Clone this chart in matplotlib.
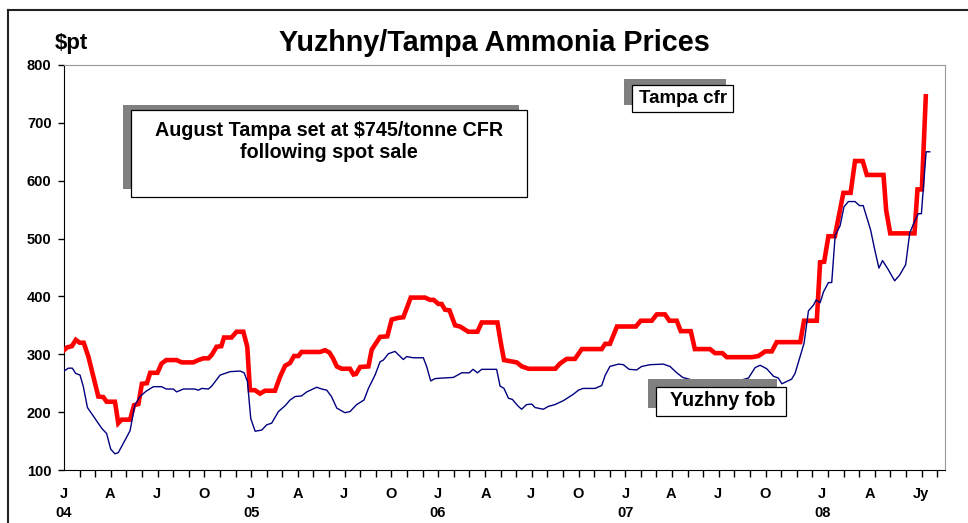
import numpy as np
import matplotlib.pyplot as plt
from matplotlib.patches import Rectangle
from matplotlib.lines import Line2D

plt.rcParams['font.family'] = ['Liberation Sans', 'DejaVu Sans']
plt.rcParams['font.weight'] = 'bold'

# Datos (x en meses desde enero 2004, escala del eje)
months_tampa = [0.0, 0.2, 0.5, 0.75, 1.0, 1.25, 1.55, 1.76, 2.18, 2.5, 2.71, 3.24, 3.45, 3.66, 4.2,
                4.45, 4.73, 4.95, 5.27, 5.48, 5.94, 6.2, 6.5, 7.16, 7.48, 8.22, 8.54, 8.86, 9.18,
                9.39, 9.7, 10.0, 10.17, 10.65, 10.97, 11.4, 11.65, 11.82, 12.14, 12.46, 12.78,
                13.41, 13.73, 14.05, 14.37, 14.62, 14.9, 15.1, 16.27, 16.6, 16.87, 17.1, 17.34,
                17.65, 18.18, 18.4, 18.56, 18.82, 19.35, 19.56, 20.09, 20.55, 20.83, 21.25,
                21.57, 22.04, 22.95, 23.27, 23.5, 23.8, 24.0, 24.22, 24.5, 24.86, 25.17, 25.7,
                26.28, 26.55, 27.55, 27.79, 27.97, 28.36, 28.78, 29.1, 29.53, 31.23, 31.53,
                31.95, 32.48, 32.91, 34.18, 34.4, 34.7, 35.15, 36.35, 36.66, 37.36, 37.68, 38.2,
                38.48, 38.95, 39.2, 39.84, 40.1, 41.06, 41.38, 41.85, 42.13, 43.72, 44.14,
                44.57, 44.99, 45.3, 46.8, 47.04, 47.85, 48.06, 48.32, 48.59, 49.0, 49.54, 50.0,
                50.28, 50.77, 51.03, 52.09, 52.26, 52.52, 54.06, 54.25, 54.53, 54.78]
tampa_cfr = [307, 312, 314, 325, 320, 320, 296, 273, 227, 226, 218, 218, 181, 187, 187,
             212, 214, 249, 250, 268, 268, 284, 290, 290, 286, 286, 290, 293, 293,
             299, 313, 314, 329, 329, 339, 339, 313, 238, 238, 232, 237,
             237, 261, 280, 285, 297, 297, 304, 304, 307, 303, 293, 279,
             275, 275, 265, 266, 278, 279, 308, 330, 331, 360, 363,
             364, 398, 398, 394, 394, 387, 387, 377, 376, 350, 348, 339,
             339, 355, 355, 316, 290, 288, 286, 279, 275, 275, 284,
             292, 292, 309, 309, 318, 318, 348, 348, 358, 358, 369, 369,
             358, 358, 340, 340, 309, 309, 302, 302, 295, 295, 297,
             305, 305, 321, 321, 358, 358, 459, 460, 504, 504, 579, 579,
             634, 634, 610, 610, 549, 509, 509, 585, 585, 746]

months_yuzhny = [0.0, 0.28, 0.53, 0.74, 1.02, 1.23, 1.49, 1.97, 2.4, 2.71, 2.97, 3.24, 3.45, 3.77,
                 4.2, 4.5, 4.83, 5.21, 5.68, 6.2, 6.5, 6.95, 7.16, 7.59, 8.3, 8.54, 8.75, 9.18,
                 9.39, 9.92, 10.56, 11.2, 11.45, 11.66, 11.87, 12.15, 12.57, 12.88, 13.2, 13.63,
                 14.05, 14.37, 14.69, 15.1, 15.43, 16.06, 16.38, 16.7, 17.0, 17.34, 17.86, 18.18,
                 18.6, 19.07, 19.35, 19.77, 20.09, 20.3, 20.62, 21.04, 21.57, 21.78, 22.2, 22.84,
                 23.05, 23.31, 23.59, 24.11, 24.75, 25.28, 25.76, 26.0, 26.28, 26.55, 27.5,
                 27.72, 27.97, 28.25, 28.5, 28.88, 29.09, 29.4, 29.73, 29.94, 30.47, 30.79,
                 31.2, 31.75, 32.38, 32.7, 33.0, 33.76, 34.18, 34.39, 34.7, 35.24, 35.56, 35.92,
                 36.4, 36.72, 37.25, 38.1, 38.52, 38.95, 39.33, 40.0, 41.0, 42.0, 43.0, 43.51,
                 43.93, 44.25, 44.67, 45.1, 45.4, 45.63, 45.94, 46.25, 46.47, 46.79, 47.04,
                 47.32, 47.64, 47.81, 48.06, 48.28, 48.59, 48.8, 49.02, 49.33, 49.58, 49.86,
                 50.28, 50.56, 50.8, 51.27, 51.54, 51.8, 52.03, 52.4, 52.8, 53.12, 53.5, 53.76,
                 54.01, 54.3, 54.5, 54.8, 55.03]
yuzhny_fob = [271, 276, 276, 267, 264, 244, 208, 189, 172, 163, 136, 128, 130, 146,
              168, 212, 227, 236, 244, 244, 240, 240, 235, 240, 240, 238, 241, 240,
              245, 264, 270, 271, 268, 253, 189, 167, 169, 178, 181, 201,
              211, 221, 227, 228, 235, 243, 240, 238, 227, 207, 199, 201,
              213, 221, 241, 264, 287, 290, 301, 305, 291, 296, 294, 294,
              279, 254, 258, 259, 260, 268, 268, 274, 268, 274, 274,
              245, 241, 224, 222, 210, 205, 213, 214, 208, 205, 210,
              213, 220, 231, 238, 241, 241, 246, 263, 279, 283, 282, 274,
              273, 279, 282, 283, 279, 268, 260, 255, 250, 250, 255, 259,
              277, 281, 275, 262, 259, 249, 253, 257, 267, 296, 319,
              375, 385, 394, 389, 408, 424, 424, 506, 522, 555, 564,
              564, 557, 557, 515, 480, 449, 462, 446, 427, 437, 455, 510,
              526, 543, 543, 650, 650]

label_pos = [0, 2.95, 5.9, 8.9, 11.9, 14.9, 17.8, 20.8, 23.75, 26.8, 29.7, 32.65, 35.7,
             38.6, 41.55, 44.55, 48.2, 51.25, 54.45]
label_txt = ['J\n04', 'A', 'J', 'O', 'J\n05', 'A', 'J', 'O', 'J\n06', 'A', 'J', 'O', 'J\n07',
             'A', 'J', 'O', 'J\n08', 'A', 'Jy']

W, H = 968, 523
fig = plt.figure(figsize=(W / 100, H / 100), dpi=100)
ax = fig.add_axes([64 / W, 1 - 470 / H, (945 - 64) / W, (470 - 65) / H])

ax.plot(months_tampa, tampa_cfr, color='#ff0000', lw=3.3, solid_joinstyle='miter', zorder=3)
ax.plot(months_yuzhny, yuzhny_fob, color='#000080', lw=1.0, zorder=4)

ax.set_xlim(0, 56)
ax.set_ylim(100, 800)
ax.set_yticks(range(100, 801, 100))
ax.tick_params(axis='y', direction='out', length=4, width=1, labelsize=10.5, pad=5)
ax.set_xticks(np.linspace(0, 55.5, 57), minor=True)
ax.set_xticks(label_pos)
ax.set_xticklabels(label_txt, fontsize=10.5, fontweight='bold', va='top')
ax.tick_params(axis='x', which='minor', direction='out', length=5, width=1)
ax.tick_params(axis='x', which='major', length=0, pad=12)
for lbl in ax.get_xticklabels():
    lbl.set_linespacing(1.45)
for lbl in ax.get_yticklabels():
    lbl.set_fontweight('bold')

ax.spines['left'].set_color('black')
ax.spines['bottom'].set_color('black')
ax.spines['top'].set_color('#999999')
ax.spines['right'].set_color('#999999')


def fx(x):
    return x / W


def fy(y):
    return 1 - y / H


def caja(x0, y0, x1, y1, sx0, sy0, sx1, sy1):
    fig.add_artist(Rectangle((fx(sx0), fy(sy1)), fx(sx1) - fx(sx0), fy(sy0) - fy(sy1),
                             transform=fig.transFigure, facecolor='#808080',
                             edgecolor='none', zorder=5))
    fig.add_artist(Rectangle((fx(x0), fy(y1)), fx(x1) - fx(x0), fy(y0) - fy(y1),
                             transform=fig.transFigure, facecolor='white',
                             edgecolor='black', lw=0.9, zorder=6))


caja(131, 110, 527, 197, 123, 105, 519, 189)
fig.text(fx(329), fy(142), 'August Tampa set at $745/tonne CFR\nfollowing spot sale',
         ha='center', va='center', fontsize=14.2, fontweight='bold', linespacing=1.2, zorder=7)
caja(632, 85, 733, 112, 624, 79, 726, 105)
fig.text(fx(683), fy(98.5), 'Tampa cfr', ha='center', va='center', fontsize=13.5,
         fontweight='bold', zorder=7)
caja(656, 387, 786, 416, 648, 379, 777, 408)
fig.text(fx(723), fy(401), 'Yuzhny fob', ha='center', va='center', fontsize=14.2,
         fontweight='bold', zorder=7)

# Titulo y unidades
fig.text(fx(494), fy(43), 'Yuzhny/Tampa Ammonia Prices', ha='center', va='center',
         fontsize=20.7, fontweight='bold')
fig.text(fx(71), fy(43), '$pt', ha='center', va='center', fontsize=16, fontweight='bold')

# Marco exterior
fig.add_artist(Line2D([fx(8), fx(8)], [fy(10), 0], transform=fig.transFigure,
                      color='#222222', lw=1.5))
fig.add_artist(Line2D([fx(8), 1], [fy(10), fy(10)], transform=fig.transFigure,
                      color='#222222', lw=1.5))

fig.savefig('out.png', dpi=100)
